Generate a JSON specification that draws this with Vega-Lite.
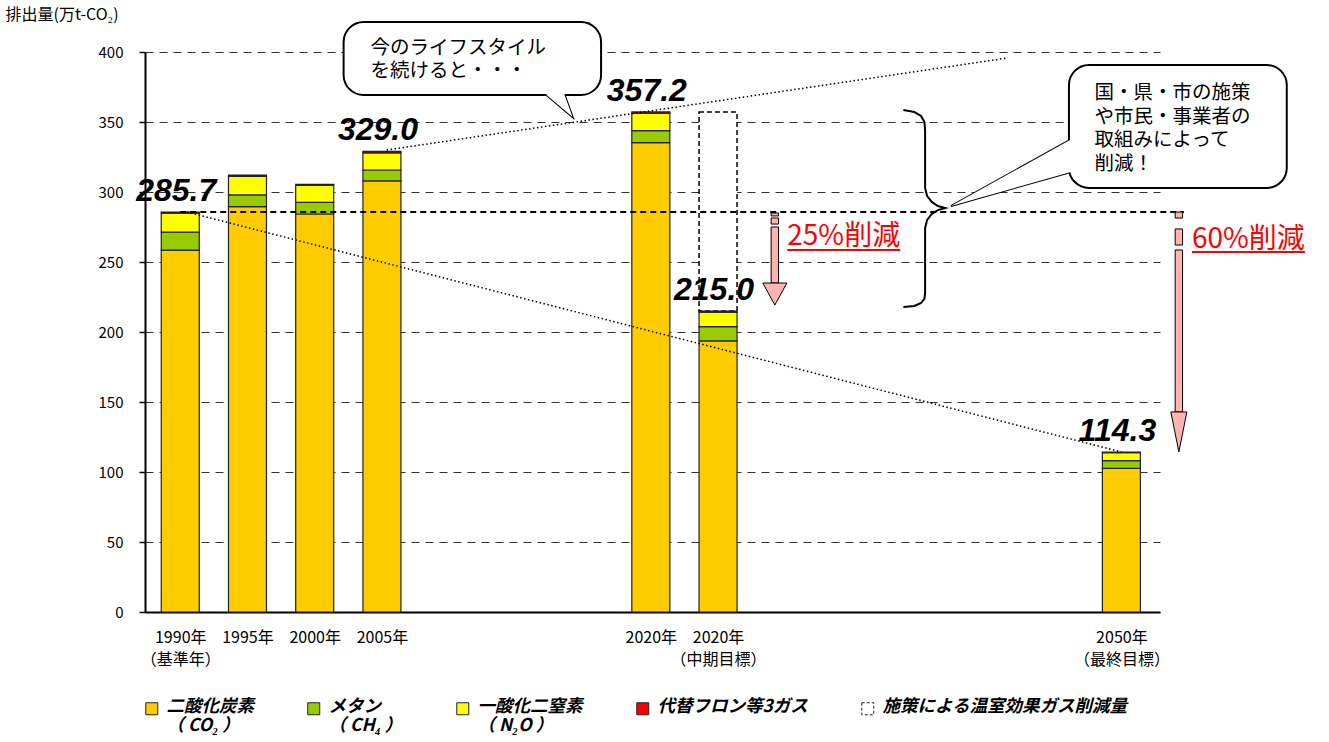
{
  "$schema": "https://vega.github.io/schema/vega-lite/v6.json",
  "width": 1015,
  "height": 560,
  "padding": {"left": 5, "top": 6, "right": 5, "bottom": 2},
  "background": "white",
  "config": {
    "view": {"stroke": null},
    "font": "Noto Sans CJK JP",
    "axis": {"labelFont": "Noto Sans CJK JP", "titleFont": "Noto Sans CJK JP", "labelColor": "black", "titleColor": "black"}
  },
  "datasets": {
    "reduction": [{"slot": 8, "lo": 215.0, "hi": 357.2, "gas": "施策による温室効果ガス削減量"}],
    "emissions": [
      {"slot": 0, "gas": "二酸化炭素", "value": 258.5, "k": 1},
      {"slot": 0, "gas": "メタン", "value": 12.8, "k": 2},
      {"slot": 0, "gas": "一酸化二窒素", "value": 13.6, "k": 3},
      {"slot": 0, "gas": "代替フロン等3ガス", "value": 0.8, "k": 4},
      {"slot": 1, "gas": "二酸化炭素", "value": 289.5, "k": 1},
      {"slot": 1, "gas": "メタン", "value": 8.4, "k": 2},
      {"slot": 1, "gas": "一酸化二窒素", "value": 13.2, "k": 3},
      {"slot": 1, "gas": "代替フロン等3ガス", "value": 1.0, "k": 4},
      {"slot": 2, "gas": "二酸化炭素", "value": 284.3, "k": 1},
      {"slot": 2, "gas": "メタン", "value": 8.3, "k": 2},
      {"slot": 2, "gas": "一酸化二窒素", "value": 12.1, "k": 3},
      {"slot": 2, "gas": "代替フロン等3ガス", "value": 0.8, "k": 4},
      {"slot": 3, "gas": "二酸化炭素", "value": 307.9, "k": 1},
      {"slot": 3, "gas": "メタン", "value": 7.8, "k": 2},
      {"slot": 3, "gas": "一酸化二窒素", "value": 12.3, "k": 3},
      {"slot": 3, "gas": "代替フロン等3ガス", "value": 1.0, "k": 4},
      {"slot": 7, "gas": "二酸化炭素", "value": 335.2, "k": 1},
      {"slot": 7, "gas": "メタン", "value": 8.6, "k": 2},
      {"slot": 7, "gas": "一酸化二窒素", "value": 12.4, "k": 3},
      {"slot": 7, "gas": "代替フロン等3ガス", "value": 1.0, "k": 4},
      {"slot": 8, "gas": "二酸化炭素", "value": 193.6, "k": 1},
      {"slot": 8, "gas": "メタン", "value": 10.2, "k": 2},
      {"slot": 8, "gas": "一酸化二窒素", "value": 10.4, "k": 3},
      {"slot": 8, "gas": "代替フロン等3ガス", "value": 0.8, "k": 4},
      {"slot": 14, "gas": "二酸化炭素", "value": 102.6, "k": 1},
      {"slot": 14, "gas": "メタン", "value": 5.5, "k": 2},
      {"slot": 14, "gas": "一酸化二窒素", "value": 5.8, "k": 3},
      {"slot": 14, "gas": "代替フロン等3ガス", "value": 0.4, "k": 4}
    ],
    "totals": [
      {"slot": 0, "total": 285.7},
      {"slot": 3, "total": 329.0},
      {"slot": 7, "total": 357.2},
      {"slot": 8, "total": 215.0},
      {"slot": 14, "total": 114.3}
    ],
    "trends": [
      {"x": 0.1, "y": 285.7, "x2": 14.0, "y2": 114.3},
      {"x": 3.07, "y": 330.0, "x2": 12.3, "y2": 395.7}
    ],
    "baseline": [{"x": 0, "x2": 14.93, "y": 285.7}],
    "arrowParts": [
      {"x": 8.79, "x2": 8.9, "y": 285.0, "y2": 282.9},
      {"x": 8.79, "x2": 8.9, "y": 281.4, "y2": 277.1},
      {"x": 8.79, "x2": 8.9, "y": 275.0, "y2": 235.0},
      {"x": 14.8, "x2": 14.91, "y": 285.7, "y2": 281.4},
      {"x": 14.8, "x2": 14.91, "y": 273.6, "y2": 262.1},
      {"x": 14.8, "x2": 14.91, "y": 258.6, "y2": 142.9}
    ],
    "head25": [{"x": 8.845, "y": 220.7}],
    "head60": [{"x": 14.855, "y": 128.6}],
    "brace": [
      {"i": 1, "x": 10.757, "y": 358.6},
      {"i": 2, "x": 10.92, "y": 357.1},
      {"i": 3, "x": 11.02, "y": 354.3},
      {"i": 4, "x": 11.07, "y": 350.0},
      {"i": 5, "x": 11.08, "y": 344.3},
      {"i": 6, "x": 11.08, "y": 302.9},
      {"i": 7, "x": 11.11, "y": 297.1},
      {"i": 8, "x": 11.18, "y": 292.9},
      {"i": 9, "x": 11.27, "y": 290.0},
      {"i": 10, "x": 11.38, "y": 288.6},
      {"i": 11, "x": 11.27, "y": 287.1},
      {"i": 12, "x": 11.18, "y": 284.3},
      {"i": 13, "x": 11.11, "y": 280.0},
      {"i": 14, "x": 11.08, "y": 274.3},
      {"i": 15, "x": 11.08, "y": 227.9},
      {"i": 16, "x": 11.07, "y": 223.6},
      {"i": 17, "x": 11.02, "y": 220.7},
      {"i": 18, "x": 10.92, "y": 218.6},
      {"i": 19, "x": 10.757, "y": 217.9}
    ],
    "bubbles": [
      {"x": 2.43, "x2": 6.26, "y": 421.4, "y2": 369.3},
      {"x": 13.22, "x2": 16.46, "y": 390.7, "y2": 302.9}
    ],
    "tail1": [{"x": 5.836, "y": 353.6}],
    "tail2": [{"x": 11.465, "y": 290.0}],
    "bubbleText": [
      {"x": 2.83, "y": 409.3, "t": "今のライフスタイル\nを続けると・・・"},
      {"x": 13.6, "y": 377.1, "t": "国・県・市の施策\nや市民・事業者の\n取組みによって\n削減！"}
    ],
    "cuts": [
      {"x": 9.03, "y": 267.9, "t": "25%削減"},
      {"x": 15.05, "y": 265.7, "t": "60%削減"}
    ],
    "underlines": [
      {"x": 9.03, "x2": 10.71, "y": 258.6},
      {"x": 15.05, "x2": 16.73, "y": 257.1}
    ]
  },
  "layer": [
    {
      "data": {"name": "reduction"},
      "mark": {"type": "bar", "size": 38, "stroke": "black", "strokeWidth": 1.5, "strokeDash": [5, 3]},
      "encoding": {
        "x": {
          "field": "slot", "type": "quantitative",
          "scale": {"domain": [-0.45, 14.5], "nice": false, "zero": false},
          "axis": {
            "title": null, "values": [0, 1, 2, 3, 7, 8, 14], "ticks": false, "grid": false,
            "domainColor": "black", "domainWidth": 2, "labelFontSize": 16, "labelPadding": 17,
            "labelLineHeight": 22, "labelOverlap": false, "labelFlush": false, "labelBound": false,
            "labelExpr": "datum.value == 0 ? ['1990年', '（基準年）'] : datum.value == 1 ? '1995年' : datum.value == 2 ? '2000年' : datum.value == 3 ? '2005年' : datum.value == 7 ? '2020年' : datum.value == 8 ? ['2020年', '（中期目標）'] : ['2050年', '（最終目標）']"
          }
        },
        "y": {
          "field": "lo", "type": "quantitative",
          "scale": {"domain": [0, 400], "nice": false},
          "axis": {
            "title": "排出量(万t-CO₂)", "titleAngle": 0, "titleAlign": "left", "titleBaseline": "top",
            "titleX": -140, "titleY": -46, "titleFontSize": 16, "titleFontWeight": "normal",
            "values": [0, 50, 100, 150, 200, 250, 300, 350, 400],
            "grid": true, "gridDash": [8, 6], "gridColor": "#333", "gridWidth": 1,
            "domainColor": "black", "domainWidth": 2, "tickColor": "black", "tickSize": 6, "tickWidth": 1.5,
            "labelFontSize": 15, "labelPadding": 16
          }
        },
        "y2": {"field": "hi"},
        "color": {
          "field": "gas", "type": "nominal",
          "scale": {
            "domain": ["二酸化炭素", "メタン", "一酸化二窒素", "代替フロン等3ガス", "施策による温室効果ガス削減量"],
            "range": ["#FFCC00", "#99CC00", "#FFFF00", "#FF0000", "#FFFFFF"]
          },
          "legend": {
            "title": null, "orient": "none", "legendX": -2, "legendY": 648, "direction": "horizontal",
            "columns": 5, "gridAlign": "none", "columnPadding": 51,
            "symbolType": "square", "symbolSize": 144, "symbolStrokeColor": "#222", "symbolStrokeWidth": 1,
            "labelFont": "Noto Sans CJK JP", "labelFontSize": 17.5, "labelFontWeight": "bold", "labelFontStyle": "italic",
            "labelColor": "black", "labelLimit": 400, "labelOffset": 6, "labelBaseline": "top", "labelLineHeight": 24,
            "labelExpr": "datum.label == '二酸化炭素' ? ['二酸化炭素', '（ CO₂ ）'] : datum.label == 'メタン' ? ['メタン', '（ CH₄ ）'] : datum.label == '一酸化二窒素' ? ['一酸化二窒素', '（ N₂O ）'] : datum.label",
            "encode": {
              "labels": {"update": {"dy": {"value": -11}}},
              "symbols": {"update": {"strokeDash": {"signal": "datum.value == '施策による温室効果ガス削減量' ? [3, 2] : null"}}}
            }
          }
        }
      }
    },
    {
      "data": {"name": "emissions"},
      "mark": {"type": "bar", "size": 38, "stroke": "#222", "strokeWidth": 1.2},
      "encoding": {
        "x": {"field": "slot", "type": "quantitative"},
        "y": {"field": "value", "type": "quantitative", "stack": "zero"},
        "color": {"field": "gas", "type": "nominal"},
        "order": {"field": "k", "type": "quantitative"}
      }
    },
    {
      "data": {"name": "trends"},
      "mark": {"type": "rule", "color": "black", "strokeWidth": 1.5, "strokeDash": [1.5, 2.5]},
      "encoding": {
        "x": {"field": "x", "type": "quantitative"},
        "x2": {"field": "x2"},
        "y": {"field": "y", "type": "quantitative"},
        "y2": {"field": "y2"}
      }
    },
    {
      "data": {"name": "baseline"},
      "mark": {"type": "rule", "color": "black", "strokeWidth": 2, "strokeDash": [6, 4]},
      "encoding": {
        "x": {"field": "x", "type": "quantitative"},
        "x2": {"field": "x2"},
        "y": {"field": "y", "type": "quantitative"}
      }
    },
    {
      "data": {"name": "totals"},
      "mark": {"type": "text", "baseline": "alphabetic", "dy": -11, "dx": -4, "fontSize": 32, "fontWeight": "bold", "fontStyle": "italic", "font": "Liberation Sans", "color": "black"},
      "encoding": {
        "x": {"field": "slot", "type": "quantitative"},
        "y": {"field": "total", "type": "quantitative"},
        "text": {"field": "total", "type": "quantitative", "format": ".1f"}
      }
    },
    {
      "data": {"name": "arrowParts"},
      "mark": {"type": "rect", "fill": "#FFB3B3", "stroke": "black", "strokeWidth": 1},
      "encoding": {
        "x": {"field": "x", "type": "quantitative"},
        "x2": {"field": "x2"},
        "y": {"field": "y", "type": "quantitative"},
        "y2": {"field": "y2"}
      }
    },
    {
      "data": {"name": "head25"},
      "mark": {"type": "point", "shape": "M-0.6,-1 L0.6,-1 L0,0.1 Z", "size": 1600, "filled": true, "fill": "#FFB3B3", "stroke": "black", "strokeWidth": 1, "opacity": 1},
      "encoding": {
        "x": {"field": "x", "type": "quantitative"},
        "y": {"field": "y", "type": "quantitative"}
      }
    },
    {
      "data": {"name": "head60"},
      "mark": {"type": "point", "shape": "M-0.4,-1 L0.4,-1 L0,1 Z", "size": 1600, "filled": true, "fill": "#FFB3B3", "stroke": "black", "strokeWidth": 1, "opacity": 1},
      "encoding": {
        "x": {"field": "x", "type": "quantitative"},
        "y": {"field": "y", "type": "quantitative"}
      }
    },
    {
      "data": {"name": "brace"},
      "mark": {"type": "line", "color": "black", "strokeWidth": 2},
      "encoding": {
        "x": {"field": "x", "type": "quantitative"},
        "y": {"field": "y", "type": "quantitative"},
        "order": {"field": "i", "type": "quantitative"}
      }
    },
    {
      "data": {"name": "bubbles"},
      "mark": {"type": "rect", "fill": "#B0B0B0", "cornerRadius": 20, "xOffset": 4, "yOffset": 4},
      "encoding": {
        "x": {"field": "x", "type": "quantitative"},
        "x2": {"field": "x2"},
        "y": {"field": "y", "type": "quantitative"},
        "y2": {"field": "y2"}
      }
    },
    {
      "data": {"name": "tail1"},
      "mark": {"type": "point", "shape": "M0,0 L-0.16,-0.44 L-0.16,-0.7 L-0.52,-0.7 L-0.52,-0.44 Z", "size": 10000, "filled": true, "fill": "white", "stroke": "black", "strokeWidth": 2, "opacity": 1},
      "encoding": {
        "x": {"field": "x", "type": "quantitative"},
        "y": {"field": "y", "type": "quantitative"}
      }
    },
    {
      "data": {"name": "tail2"},
      "mark": {"type": "point", "shape": "M0,0 L2.38,-1.32 L2.9,-1.32 L2.9,-0.72 L2.54,-0.72 Z", "size": 10000, "filled": true, "fill": "white", "stroke": "black", "strokeWidth": 2, "opacity": 1},
      "encoding": {
        "x": {"field": "x", "type": "quantitative"},
        "y": {"field": "y", "type": "quantitative"}
      }
    },
    {
      "data": {"name": "bubbles"},
      "mark": {"type": "rect", "fill": "white", "stroke": "black", "strokeWidth": 2, "cornerRadius": 20},
      "encoding": {
        "x": {"field": "x", "type": "quantitative"},
        "x2": {"field": "x2"},
        "y": {"field": "y", "type": "quantitative"},
        "y2": {"field": "y2"}
      }
    },
    {
      "data": {"name": "tail1"},
      "mark": {"type": "point", "shape": "M0,0 L-0.16,-0.44 L-0.16,-0.7 L-0.52,-0.7 L-0.52,-0.44 Z", "size": 10000, "filled": true, "fill": "white", "strokeOpacity": 0, "opacity": 1},
      "encoding": {
        "x": {"field": "x", "type": "quantitative"},
        "y": {"field": "y", "type": "quantitative"}
      }
    },
    {
      "data": {"name": "tail2"},
      "mark": {"type": "point", "shape": "M0,0 L2.38,-1.32 L2.9,-1.32 L2.9,-0.72 L2.54,-0.72 Z", "size": 10000, "filled": true, "fill": "white", "strokeOpacity": 0, "opacity": 1},
      "encoding": {
        "x": {"field": "x", "type": "quantitative"},
        "y": {"field": "y", "type": "quantitative"}
      }
    },
    {
      "data": {"name": "bubbleText"},
      "mark": {"type": "text", "align": "left", "baseline": "top", "fontSize": 19.5, "lineHeight": 23.5, "lineBreak": "\n", "color": "black"},
      "encoding": {
        "x": {"field": "x", "type": "quantitative"},
        "y": {"field": "y", "type": "quantitative"},
        "text": {"field": "t", "type": "nominal"}
      }
    },
    {
      "data": {"name": "cuts"},
      "mark": {"type": "text", "align": "left", "baseline": "middle", "fontSize": 28, "color": "#FF0000"},
      "encoding": {
        "x": {"field": "x", "type": "quantitative"},
        "y": {"field": "y", "type": "quantitative"},
        "text": {"field": "t", "type": "nominal"}
      }
    },
    {
      "data": {"name": "underlines"},
      "mark": {"type": "rule", "color": "#FF0000", "strokeWidth": 2},
      "encoding": {
        "x": {"field": "x", "type": "quantitative"},
        "x2": {"field": "x2"},
        "y": {"field": "y", "type": "quantitative"}
      }
    }
  ]
}
